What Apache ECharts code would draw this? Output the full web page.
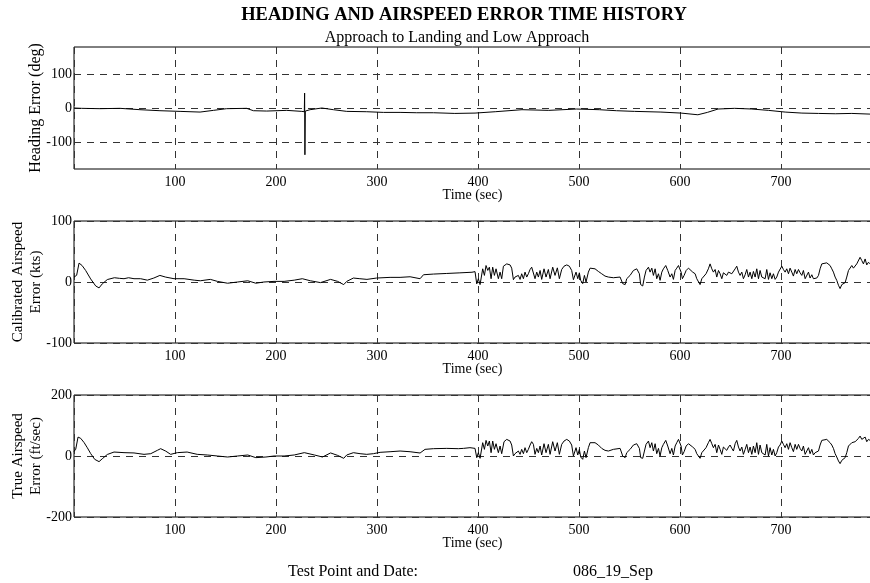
<!DOCTYPE html>
<html>
<head>
<meta charset="utf-8">
<title>Heading and Airspeed Error Time History</title>
<script src="https://cdn.jsdelivr.net/npm/echarts@6/dist/echarts.min.js"></script>
<style>html,body{margin:0;padding:0;background:#fff}</style>
</head>
<body>
<div id="main" style="width:870px;height:583px;"></div>
<script>
// [time (sec), error]
var hdgErr = [[0,0],[7.6,-1],[25.7,-2],[45.5,-1],[65.3,-5],[85.1,-8],[105,-10],[124.8,-12],[138,-7],[151,-2],[170.9,-1],[177.6,-8],[190.8,-9],[210.6,-7],[225.5,-10],[228,-11],[228.3,44],[228.6,-138],[229,-9],[233.7,-5],[245.3,0],[256.8,-5],[270,-10],[289.8,-11],[306.3,-13],[322.8,-13],[339.3,-14],[355.8,-14],[377,-16],[397,-15],[417,-11],[443.5,-5],[470,-7],[497.5,-3],[520,-5],[537,-8],[555,-10],[581,-12],[601,-15],[617.6,-20],[627,-13],[637.6,-3],[654,-1],[671,-3],[687.5,-7],[704,-12],[720.6,-15],[737,-16],[753.6,-17],[770,-16],[788,-18]];

var casErr = [[0,8],[2.6,11],[5,31],[8,27],[11.5,19],[16.5,5],[21.5,-6.5],[24.8,-9.7],[28,-3],[33,4],[40,7],[45,6],[49.5,5.4],[54,7],[59.4,5.4],[66,5.4],[72.6,3],[79,6.5],[85,10.8],[90.8,8],[99,5.4],[109,5.4],[119,3],[125,2],[135,4.3],[142,1],[152,-2],[162,0],[172,2],[180,-2],[188,0],[198,1],[208,1],[218,3],[226,5.4],[234,2],[244,-1],[254,4.3],[261,1],[267,-4.3],
[270,1],[276.6,6.5],[283,5.4],[290,4.3],[299.6,6.5],[312.9,7.6],[322.8,7.6],[332.7,8.6],[342.6,5.4],[346,11.9],[355.8,13],[369,14],[382,15],[394,16],[397,17],
[398.7,-3],[400.3,5.4],[402,-4.3],[404.6,21.6],[406.3,10.8],[407.9,27],[409.6,19],[411.2,24.3],[412.9,5.4],[414.5,24.3],[416.2,10.8],[417.8,21.6],[420.1,5.4],[421.8,16.2],[423.4,5.4],[425.1,25.9],[428.4,29.7],[431.7,28],[433.3,22.7],[435,3.8],[436.6,8.1],[438.3,5.4],[439.9,10.8],[441.6,4.3],[443.2,13.5],[444.9,5.4],[446.5,16.2],[448.2,8.1],[449.8,13.5],[451.5,20.5],[453.1,24.3],[454.8,21.6],[456.4,5.4],[458.1,16.2],[459.7,8.1],[461.4,18.9],[463,4.3],[465.3,21.6],[467.3,8.1],[469.6,20.5],[471.3,5.4],[473.9,24.3],[476.2,10.8],[478.5,23.2],[480.5,5.4],[482.8,20.5],[485.1,25.9],[487.8,28],[490.4,25.9],[492.7,18.9],[494.4,3.8],[497,16.2],[498.7,5.4],[500.3,15.1],[501.6,2.7],[503.6,-2.7],[505.3,10.8],[506.9,0],[509.2,16.2],[510.9,22.7],[512.5,25.9],[515.8,21.6],[519.1,17.3],[522.4,13.5],[525.7,9.7],[529,8.1],
[534,7],[540.6,8.1],[543.2,-2.7],[545.6,-4.3],[547.2,5.4],[550.5,10.8],[553.8,18.9],[557.1,21.6],[559.7,13.5],[561,-4.3],[563,-6.5],[564.7,8.1],[566.3,18.9],[568.7,24.3],[570.3,16.2],[572,22.7],[573.6,10.8],[575.3,21.6],[576.9,5.4],[578.6,13.5],[580.2,2.7],[581.9,16.2],[583.5,21.6],[585.8,27],[587.8,18.9],[590.1,8.1],[591.8,13.5],[593.4,4.3],[595.1,18.9],[596.7,22.7],[598.4,27],[600,29.7],[601,16.2],[602.3,5.4],[604,10.8],[606,18.9],[608.3,22.7],[609.9,20.5],[612.5,16.2],[614.9,13.5],[616.5,5.4],[618.2,2.7],[619.8,-4.3],[621.5,5.4],[623.1,8.1],[625.7,13.5],[628,21.6],[629.7,29.7],[631.4,21.6],[633,16.2],[634.7,20.5],[636.3,8.1],[638,18.9],[639.6,13.5],[641.3,5.4],[642.9,15.1],[644.6,17.3],[646.2,10.8],[647.9,16.2],[649.5,18.9],[651.2,13.5],[652.8,10.8],[654.5,21.6],[656.1,25.9],[657.8,16.2],[659.4,10.8],[661.1,16.2],[662.7,5.4],[664.4,11.9],[666,20.5],[667.7,8.1],[669.3,16.2],[671,5.4],[672.6,17.3],[674.3,8.1],[675.9,21.6],[677.6,5.4],[679.2,18.9],[680.9,8.1],[682.5,10.8],[684.2,5.4],[685.8,20.5],[687.5,4.3],[689.1,15.1],[690.8,5.4],[692.4,13.5],[694.1,4.3],[695.7,8.1],[697.4,16.2],[699,18.9],[700.7,25.9],[702.3,20.5],[704,16.2],[705.6,21.6],[707.3,13.5],[708.9,22.7],[710.6,16.2],[712.2,9.7],[713.9,20.5],[715.5,13.5],[717.2,20.5],[718.8,15.1],[720.5,10.8],[722.1,18.9],[723.8,5.4],[725.4,8.1],[727.1,16.2],[728.7,6.5],[730.4,11.9],[732,5.4],[733.7,8.1],[735.3,6.5],[737,10.8],[738.6,21.6],[740.3,29.7],[741.9,32.4],[745.2,31.4],[748.5,27],[750.2,21.6],[751.8,16.2],[753.5,8.1],[755.1,2.7],[756.8,-5.4],[758.4,-10.8],[760.1,-4.3],[761.7,-5.4],[763.4,-1],[765,8.1],[766.7,18.9],[768.3,21.6],[770,27],[771.6,22.7],[773.3,25.9],[774.9,29.7],[776.6,32.4],[778.2,40.5],[779.9,35.1],[781.5,29.7],[783.2,37.8],[784.8,28],[786.5,32.4],[788.1,29.7]];

var tasErr = [[0,15],[1.7,22],[4,62],[6.6,58],[10,44],[13.2,27],[16.5,8],[20.5,-11],[24.8,-18.5],[28,-9],[33,5],[39.6,13],[49.5,11],[59.4,10],[69.3,5.4],[76,7.6],[82.5,18.5],[85.8,24],[90.8,16],[95.7,5.4],[102.3,11],[112,13],[122,5.4],[132,3.3],[142,0],[152,-3.3],[162,0],[172,3.3],[180,-5.4],[190,-3.3],[198,0],[208,0],[218,3.3],[228,11],[238,3.3],[246,-3.3],[254,10],[261,2],[267,-7.6],
[270,3.3],[276.6,10.9],[283.2,7.6],[289.8,5.4],[296.4,7.6],[303,12],[312.9,14],[322.8,16.3],[332.7,14],[342.6,9.8],[347.5,21.8],[355.8,24],[369,25],[380.5,24],[382.2,20.7],[385.5,25],[392,27.3],[397,25],
[398.7,-5.4],[400.3,10.9],[402,-7.6],[404.6,43.6],[406.3,21.8],[407.9,51.2],[409.6,32.7],[411.2,49],[412.9,10.9],[414.5,49],[416.2,21.8],[417.8,40.3],[420.1,10.9],[421.8,32.7],[423.4,7.6],[425.7,46.9],[428.4,54.5],[431.7,49],[433.3,36],[435,0],[436.6,7.6],[438.3,3.3],[439.9,16.3],[441.6,5.4],[443.2,21.8],[444.9,7.6],[446.5,27.3],[448.2,10.9],[449.8,21.8],[451.5,36],[453.1,46.9],[454.8,38.2],[456.4,5.4],[458.1,25],[459.7,10.9],[461.4,32.7],[463,3.3],[465.3,40.3],[467.3,10.9],[469.6,38.2],[471.3,5.4],[473.9,46.9],[476.2,16.3],[478.5,43.6],[480.5,5.4],[482.8,38.2],[485.1,49],[487.8,54.5],[490.4,49],[492.7,36],[494.4,0],[497,27.3],[498.7,3.3],[500.3,21.8],[501.6,-3.3],[503.6,-10.9],[505.3,16.3],[506.9,-5.4],[509.2,27.3],[510.9,43.6],[512.5,49],[515.8,43.6],[519.1,36],[522.4,25],[525.7,18.5],[529,16.3],
[534,21.8],[540.6,25],[543.2,0],[545.6,-5.4],[547.2,10.9],[550.5,21.8],[553.8,36],[557.1,40.3],[559.7,25],[561,-5.4],[563,-7.6],[564.7,16.3],[566.3,38.2],[568.7,49],[570.3,27.3],[572,43.6],[573.6,16.3],[575.3,40.3],[576.9,7.6],[578.6,25],[580.2,0],[581.9,27.3],[583.5,38.2],[585.8,51.2],[587.8,32.7],[590.1,7.6],[591.8,25],[593.4,3.3],[595.1,32.7],[596.7,43.6],[598.4,54.5],[600,59.9],[601,32.7],[602.3,3.3],[604,14.2],[606,32.7],[608.3,40.3],[609.9,36],[612.5,29.4],[614.9,21.8],[616.5,7.6],[618.2,3.3],[619.8,-7.6],[621.5,10.9],[623.1,16.3],[625.7,27.3],[628,43.6],[629.7,54.5],[631.4,40.3],[633,27.3],[634.7,38.2],[636.3,10.9],[638,36],[639.6,21.8],[641.3,5.4],[642.9,29.4],[644.6,32.7],[646.2,18.5],[647.9,29.4],[649.5,36],[651.2,25],[652.8,16.3],[654.5,40.3],[656.1,51.2],[657.8,29.4],[659.4,16.3],[661.1,29.4],[662.7,5.4],[664.4,21.8],[666,38.2],[667.7,10.9],[669.3,29.4],[671,5.4],[672.6,32.7],[674.3,10.9],[675.9,43.6],[677.6,5.4],[679.2,36],[680.9,10.9],[682.5,16.3],[684.2,3.3],[685.8,38.2],[687.5,0],[689.1,27.3],[690.8,3.3],[692.4,21.8],[694.1,0],[695.7,10.9],[697.4,29.4],[699,36],[700.7,49],[702.3,38.2],[704,27.3],[705.6,40.3],[707.3,21.8],[708.9,43.6],[710.6,27.3],[712.2,14.2],[713.9,38.2],[715.5,21.8],[717.2,38.2],[718.8,25],[720.5,16.3],[722.1,32.7],[723.8,5.4],[725.4,10.9],[727.1,27.3],[728.7,7.6],[730.4,21.8],[732,3.3],[733.7,10.9],[735.3,7.6],[737,16.3],[738.6,36],[740.3,51.2],[741.9,57.7],[745.2,54.5],[748.5,43.6],[750.2,36],[751.8,25],[753.5,7.6],[755.1,-3.3],[756.8,-16.3],[758.4,-25],[760.1,-14.2],[761.7,-16.3],[763.4,-5.4],[765,10.9],[766.7,32.7],[768.3,38.2],[770,43.6],[771.6,40.3],[773.3,46.9],[774.9,51.2],[776.6,57.7],[778.2,65.4],[779.9,54.5],[781.5,49],[783.2,62.1],[784.8,46.9],[786.5,54.5],[788.1,51.2]];

var hdgTicks = [-100, 0, 100];
var casTicks = [-100, 0, 100];
var tasTicks = [-200, 0, 200];
var yNames = ['Heading Error (deg)', 'Calibrated Airspeed\nError (kts)', 'True Airspeed\nError (ft/sec)'];

var FONT = '"Liberation Serif", "Times New Roman", serif';
var dash = { color: '#333', width: 1, type: [7, 6] };
var tops = [47, 221, 395];

var grids = [], xAxes = [], yAxes = [], series = [];
var yRanges = [[-180, 180, hdgTicks], [-100, 100, casTicks], [-200, 200, tasTicks]];
var datas = [hdgErr, casErr, tasErr];

for (var i = 0; i < 3; i++) {
    grids.push({ left: 74, right: -1, top: tops[i], height: 122, show: true,
        outerBoundsMode: 'none', containLabel: false,
        borderColor: '#000', borderWidth: 1, backgroundColor: 'transparent' });
    xAxes.push({
        gridIndex: i, type: 'value', min: 0, max: 789, interval: 100,
        name: 'Time (sec)', nameLocation: 'middle', nameGap: 19, nameMoveOverlap: false,
        nameTextStyle: { fontFamily: FONT, fontSize: 14, color: '#000' },
        axisLine: { show: false }, axisTick: { show: false },
        axisLabel: { showMinLabel: false, showMaxLabel: false, margin: 6,
            fontFamily: FONT, fontSize: 14, color: '#000' },
        splitLine: { show: true, lineStyle: dash }
    });
    yAxes.push({
        gridIndex: i, type: 'value', min: yRanges[i][0], max: yRanges[i][1],
        name: yNames[i], nameLocation: 'middle', nameRotate: 90, nameGap: 29, nameMoveOverlap: false,
        nameTextStyle: { fontFamily: FONT, fontSize: i === 0 ? 16 : 15, lineHeight: 18, color: '#000' },
        axisLine: { show: false },
        axisTick: { show: false, customValues: yRanges[i][2] },
        axisLabel: { customValues: yRanges[i][2], margin: 2,
            fontFamily: FONT, fontSize: 14, color: '#000' },
        splitLine: { show: true, lineStyle: dash }
    });
    series.push({
        type: 'line', xAxisIndex: i, yAxisIndex: i, data: datas[i],
        showSymbol: false, silent: true,
        lineStyle: { color: '#000', width: 1 }
    });
}

var myChart = echarts.init(document.getElementById('main'));
myChart.setOption({
    animation: false,
    backgroundColor: '#fff',
    grid: grids,
    xAxis: xAxes,
    yAxis: yAxes,
    series: series,
    graphic: [
        { type: 'text', x: 464, y: 15, style: { text: 'HEADING AND AIRSPEED ERROR TIME HISTORY',
            font: 'bold 18.5px ' + FONT, fill: '#000', align: 'center', verticalAlign: 'middle' } },
        { type: 'text', x: 457, y: 38, style: { text: 'Approach to Landing and Low Approach',
            font: '16px ' + FONT, fill: '#000', align: 'center', verticalAlign: 'middle' } },
        { type: 'text', x: 288, y: 572, style: { text: 'Test Point and Date:',
            font: '16px ' + FONT, fill: '#000', align: 'left', verticalAlign: 'middle' } },
        { type: 'text', x: 573, y: 572, style: { text: '086_19_Sep',
            font: '16px ' + FONT, fill: '#000', align: 'left', verticalAlign: 'middle' } }
    ]
});
</script>
</body>
</html>
